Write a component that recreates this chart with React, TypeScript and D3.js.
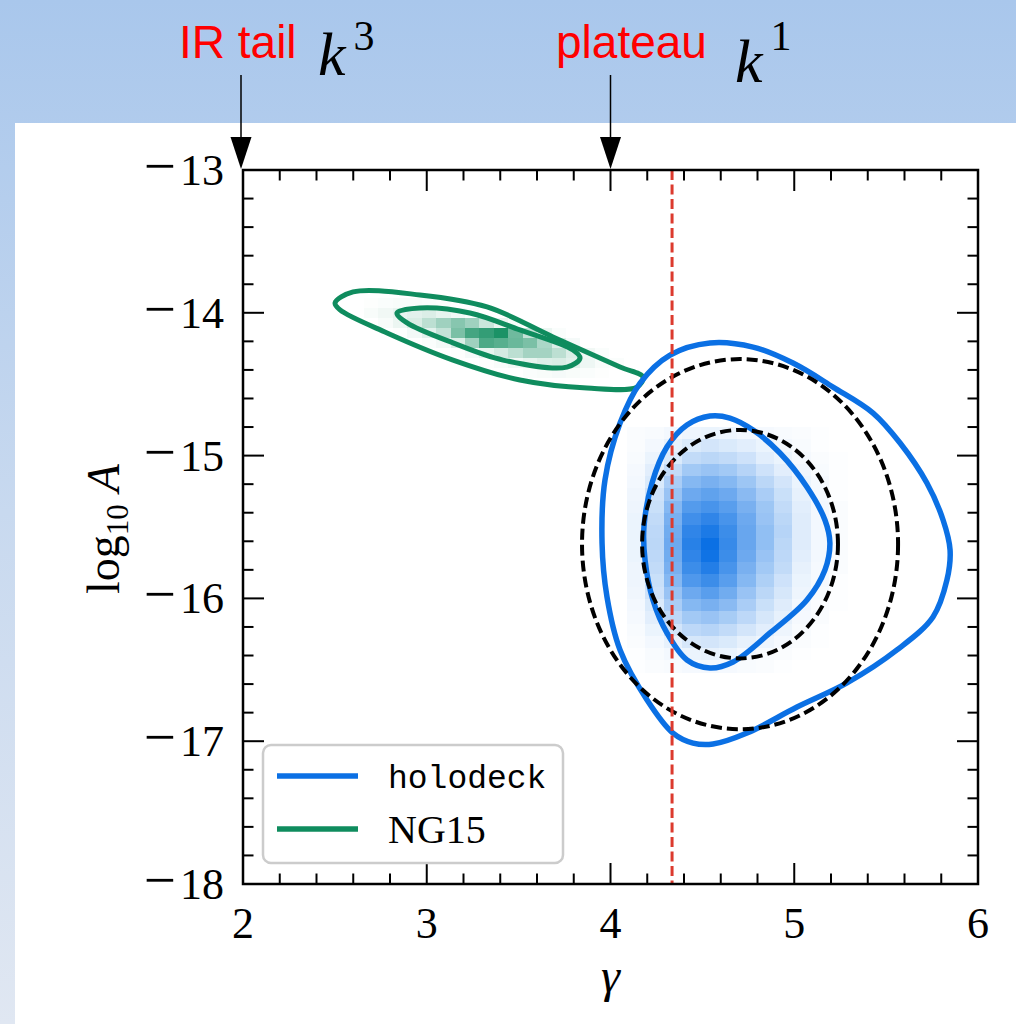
import React, { useEffect, useRef } from 'react';
import * as d3 from 'd3';

// axis ticks
const GAMMA_TICKS = [2, 3, 4, 5, 6];
const LOGA_TICKS = [-13, -14, -15, -16, -17, -18];

// vertical reference (red dashed) and top annotations
const GAMMA_REF = 4.335;
const ANNOTATIONS = [
    { gamma: 2, label: 'IR tail', power: '3' },
    { gamma: 4, label: 'plateau', power: '1' },
];

// contours, [gamma, log10 A]
const HOLODECK_OUTER = [
    [4.541, -14.211], [4.324, -14.296], [4.161, -14.492], [4.052, -14.772], [3.970, -15.171],
    [3.954, -15.612], [3.981, -15.990], [4.052, -16.361], [4.199, -16.711], [4.340, -16.943],
    [4.449, -17.013], [4.558, -17.020], [4.743, -16.943], [5.015, -16.761], [5.287, -16.592],
    [5.559, -16.361], [5.755, -16.130], [5.831, -15.871], [5.848, -15.661], [5.810, -15.451],
    [5.722, -15.192], [5.576, -14.912], [5.429, -14.702], [5.211, -14.520], [4.993, -14.352],
    [4.776, -14.240],
];
const HOLODECK_INNER = [
    [4.541, -14.723], [4.416, -14.786], [4.307, -14.940], [4.226, -15.192], [4.182, -15.500],
    [4.188, -15.731], [4.231, -16.011], [4.307, -16.242], [4.416, -16.431], [4.541, -16.487],
    [4.667, -16.445], [4.868, -16.242], [5.069, -16.011], [5.167, -15.801], [5.194, -15.612],
    [5.167, -15.451], [5.069, -15.220], [4.922, -14.982], [4.776, -14.821], [4.650, -14.737],
];
const NG15_OUTER = [
    [2.501, -13.931], [2.599, -13.854], [2.963, -13.875], [3.328, -13.959], [3.687, -14.169],
    [4.052, -14.380], [4.177, -14.450], [4.144, -14.520], [3.872, -14.527], [3.507, -14.471],
    [3.143, -14.331], [2.784, -14.141], [2.528, -13.980],
];
const NG15_INNER = [
    [2.838, -14.001], [2.963, -13.966], [3.235, -14.001], [3.507, -14.120], [3.796, -14.261],
    [3.834, -14.317], [3.763, -14.380], [3.415, -14.331], [3.143, -14.211], [2.893, -14.071],
];

// gaussian fit contours (black dashed)
const FIT_CENTER = [4.705, -15.62];
const FIT_RX = [0.533, 0.86];
const FIT_RY = [0.80, 1.296];

// 2d histograms: origin (left gamma, top logA), bin sizes, density rows
const HOLODECK_HIST_ORIGIN = [4.09, -14.80];
const HOLODECK_HIST_BIN = [0.1, 0.086];
const HOLODECK_HIST = [
    [.02, .03, .05, .07, .08, .07, .05, .04, .03, .02, .01, 0],
    [.02, .05, .10, .15, .18, .15, .12, .08, .05, .03, .01, 0],
    [.03, .08, .15, .25, .28, .25, .20, .12, .08, .04, .02, .01],
    [.04, .12, .25, .38, .42, .38, .30, .20, .12, .06, .03, .01],
    [.05, .15, .35, .50, .55, .50, .40, .28, .18, .08, .04, .01],
    [.06, .20, .42, .60, .65, .60, .48, .35, .22, .10, .04, .01],
    [.07, .22, .50, .70, .75, .68, .55, .40, .25, .12, .05, .02],
    [.08, .25, .55, .78, .85, .75, .60, .42, .28, .13, .05, .02],
    [.08, .27, .58, .85, .93, .80, .62, .45, .30, .13, .05, .02],
    [.08, .28, .60, .88, 1.0, .82, .62, .45, .28, .13, .05, .02],
    [.08, .27, .58, .85, .98, .80, .60, .42, .27, .12, .05, .02],
    [.07, .25, .55, .80, .90, .75, .55, .38, .25, .10, .04, .02],
    [.07, .22, .50, .72, .80, .68, .50, .33, .20, .08, .04, .01],
    [.06, .20, .42, .60, .68, .58, .42, .28, .17, .07, .03, .01],
    [.05, .15, .35, .50, .55, .48, .35, .22, .13, .05, .02, .01],
    [.04, .12, .27, .38, .42, .36, .27, .17, .10, .04, .02, 0],
    [.03, .08, .18, .27, .30, .25, .18, .12, .07, .03, .01, 0],
    [.02, .05, .10, .17, .18, .15, .10, .07, .04, .02, .01, 0],
    [.01, .03, .05, .08, .10, .08, .05, .03, .02, .01, 0, 0],
    [.01, .02, .03, .04, .05, .04, .03, .02, .01, 0, 0, 0],
];
const NG15_HIST_ORIGIN = [2.6585, -13.896];
const NG15_HIST_BIN = [0.0785, 0.07];
const NG15_HIST = [
    [.01, .02, .03, .03, .02, .01, 0, 0, 0, 0, 0, 0, 0, 0, 0, 0, 0, 0],
    [.03, .06, .10, .12, .15, .10, .05, .02, 0, 0, 0, 0, 0, 0, 0, 0, 0, 0],
    [0, .03, .08, .16, .28, .40, .50, .40, .22, .08, .03, 0, 0, 0, 0, 0, 0, 0],
    [0, 0, .01, .05, .12, .25, .55, .78, .85, .95, .60, .25, .08, .02, 0, 0, 0, 0],
    [0, 0, 0, 0, .02, .05, .15, .40, .75, .70, .62, .55, .35, .15, .04, 0, 0, 0],
    [0, 0, 0, 0, 0, 0, .01, .04, .10, .18, .28, .38, .38, .28, .15, .06, .02, 0],
    [0, 0, 0, 0, 0, 0, 0, 0, .01, .03, .06, .10, .14, .16, .12, .07, .03, .02],
    [0, 0, 0, 0, 0, 0, 0, 0, 0, 0, 0, .02, .03, .04, .03, .02, .01, 0],
];

const BLUE = '#0b70e4';
const GREEN = '#0f8c5e';
const SERIF = '"Liberation Serif", "Times New Roman", serif';

const App = () => {
    const ref = useRef(null);

    const graph = () => {
        const svg = d3.select(ref.current);
        svg.selectAll('*').remove();

        const width = 1016;
        const height = 1024;

        const x = d3.scaleLinear().domain([2, 6]).range([243, 978]);
        const y = d3.scaleLinear().domain([-13, -18]).range([170, 884]);

        // slide background
        const defs = svg.append('defs');
        const grad = defs.append('linearGradient')
            .attr('id', 'bg').attr('x1', 0).attr('y1', 0).attr('x2', 0).attr('y2', 1);
        grad.append('stop').attr('offset', '0%').attr('stop-color', '#a9c7ec');
        grad.append('stop').attr('offset', '50%').attr('stop-color', '#c8d9ef');
        grad.append('stop').attr('offset', '100%').attr('stop-color', '#e0e7f2');
        svg.append('rect').attr('width', width).attr('height', height).attr('fill', 'url(#bg)');
        svg.append('rect').attr('x', 15).attr('y', 123).attr('width', width - 15).attr('height', height - 123).attr('fill', '#fff');

        const g = svg.append('g');

        // histograms
        const drawHist = (rows, origin, bin, color) => {
            const fill = d3.interpolateRgb('#ffffff', color);
            rows.forEach((row, i) => {
                row.forEach((v, j) => {
                    if (v <= 0) return;
                    const g0 = origin[0] + j * bin[0];
                    const a0 = origin[1] - i * bin[1];
                    g.append('rect')
                        .attr('x', x(g0))
                        .attr('y', y(a0))
                        .attr('width', x(g0 + bin[0]) - x(g0))
                        .attr('height', y(a0 - bin[1]) - y(a0))
                        .attr('fill', fill(v))
                        .attr('shape-rendering', 'crispEdges');
                });
            });
        };
        drawHist(HOLODECK_HIST, HOLODECK_HIST_ORIGIN, HOLODECK_HIST_BIN, BLUE);
        drawHist(NG15_HIST, NG15_HIST_ORIGIN, NG15_HIST_BIN, GREEN);

        // contours
        const line = d3.line()
            .x(d => x(d[0]))
            .y(d => y(d[1]))
            .curve(d3.curveCatmullRomClosed.alpha(0.5));
        [[NG15_OUTER, GREEN, 5], [NG15_INNER, GREEN, 5], [HOLODECK_OUTER, BLUE, 5.5], [HOLODECK_INNER, BLUE, 5.5]]
            .forEach(([pts, c, w]) => {
                g.append('path')
                    .attr('d', line(pts))
                    .attr('fill', 'none')
                    .attr('stroke', c)
                    .attr('stroke-width', w)
                    .attr('stroke-linejoin', 'round');
            });

        // fit ellipses
        FIT_RX.forEach((rx, i) => {
            g.append('ellipse')
                .attr('cx', x(FIT_CENTER[0]))
                .attr('cy', y(FIT_CENTER[1]))
                .attr('rx', x(FIT_CENTER[0] + rx) - x(FIT_CENTER[0]))
                .attr('ry', y(FIT_CENTER[1] - FIT_RY[i]) - y(FIT_CENTER[1]))
                .attr('fill', 'none')
                .attr('stroke', '#000')
                .attr('stroke-width', 4)
                .attr('stroke-dasharray', '11,5');
        });

        // reference line
        g.append('line')
            .attr('x1', x(GAMMA_REF)).attr('x2', x(GAMMA_REF))
            .attr('y1', y(-13)).attr('y2', y(-18))
            .attr('stroke', '#dc3a2e')
            .attr('stroke-width', 3)
            .attr('stroke-dasharray', '10,4.5');

        // frame + ticks (inside, all sides)
        const axes = svg.append('g').attr('stroke', '#000').attr('stroke-width', 2);
        const majorLen = 21;
        const minorLen = 10.5;
        x.ticks(20).forEach(t => {
            const len = GAMMA_TICKS.includes(Math.round(t * 10) / 10) ? majorLen : minorLen;
            axes.append('line').attr('x1', x(t)).attr('x2', x(t)).attr('y1', y(-18)).attr('y2', y(-18) - len);
            axes.append('line').attr('x1', x(t)).attr('x2', x(t)).attr('y1', y(-13)).attr('y2', y(-13) + len);
        });
        y.ticks(25).forEach(t => {
            const len = LOGA_TICKS.includes(Math.round(t * 10) / 10) ? majorLen : minorLen;
            axes.append('line').attr('x1', x(2)).attr('x2', x(2) + len).attr('y1', y(t)).attr('y2', y(t));
            axes.append('line').attr('x1', x(6)).attr('x2', x(6) - len).attr('y1', y(t)).attr('y2', y(t));
        });
        axes.append('rect')
            .attr('x', x(2)).attr('y', y(-13))
            .attr('width', x(6) - x(2)).attr('height', y(-18) - y(-13))
            .attr('fill', 'none')
            .attr('stroke-width', 2.5);

        // tick labels
        const labels = svg.append('g').style('font-family', SERIF).style('font-size', '44px').attr('fill', '#000');
        GAMMA_TICKS.forEach(t => {
            labels.append('text').attr('x', x(t)).attr('y', 938).attr('text-anchor', 'middle').text(t);
        });
        LOGA_TICKS.forEach(t => {
            const tx = labels.append('text').attr('x', 224).attr('y', y(t) + 15).attr('text-anchor', 'end');
            tx.append('tspan').style('font-size', '57px').text('\u2212');
            tx.append('tspan').attr('dx', 4).text(Math.abs(t));
        });

        // axis titles
        svg.append('text')
            .attr('x', x(4)).attr('y', 992)
            .attr('text-anchor', 'middle')
            .style('font-family', SERIF).style('font-size', '48px').style('font-style', 'italic')
            .text('\u03b3');
        const yl = svg.append('text')
            .attr('transform', `translate(119, ${y(-15.5) + 2}) rotate(-90)`)
            .attr('text-anchor', 'middle')
            .style('font-family', SERIF).style('font-size', '46px');
        yl.append('tspan').text('log');
        yl.append('tspan').attr('dy', 9).style('font-size', '31px').text('10');
        yl.append('tspan').attr('dy', -9).attr('dx', 12).style('font-style', 'italic').text('A');

        // legend
        const lg = svg.append('g');
        lg.append('rect')
            .attr('x', 263).attr('y', 745).attr('width', 300).attr('height', 118)
            .attr('rx', 8)
            .attr('fill', '#fff').attr('fill-opacity', 0.85)
            .attr('stroke', '#cccccc').attr('stroke-width', 2.5);
        const entries = [
            { name: 'holodeck', color: BLUE, font: '"Liberation Mono", "DejaVu Sans Mono", monospace', size: 33, dy: 12 },
            { name: 'NG15', color: GREEN, font: SERIF, size: 40, dy: 14 },
        ];
        entries.forEach((e, i) => {
            const cy = 776 + i * 53;
            lg.append('line')
                .attr('x1', 277).attr('x2', 358).attr('y1', cy).attr('y2', cy)
                .attr('stroke', e.color).attr('stroke-width', 5.5);
            lg.append('text')
                .attr('x', 388).attr('y', cy + e.dy)
                .style('font-family', e.font).style('font-size', `${e.size}px`)
                .text(e.name);
        });

        // annotations on top
        const ann = svg.append('g');
        ANNOTATIONS.forEach((a, i) => {
            const ax = x(a.gamma) - (i === 0 ? 2 : 0);
            ann.append('line')
                .attr('x1', ax).attr('x2', ax).attr('y1', 75).attr('y2', 140)
                .attr('stroke', '#000').attr('stroke-width', 1.5);
            ann.append('path')
                .attr('d', `M${ax - 10.5},137 L${ax + 10.5},137 L${ax},169 Z`)
                .attr('fill', '#000');
        });
        ann.append('text').attr('x', 179).attr('y', 58)
            .style('font-family', '"Liberation Sans", Arial, sans-serif').style('font-size', '46px')
            .attr('fill', '#ff0000').text(ANNOTATIONS[0].label);
        ann.append('text').attr('x', 556).attr('y', 58)
            .style('font-family', '"Liberation Sans", Arial, sans-serif').style('font-size', '46px')
            .attr('fill', '#ff0000').text(ANNOTATIONS[1].label);
        const kPos = [[318, 75], [735, 82]];
        ANNOTATIONS.forEach((a, i) => {
            const kt = ann.append('text')
                .attr('x', kPos[i][0]).attr('y', kPos[i][1])
                .style('font-family', SERIF);
            kt.append('tspan').style('font-size', '62px').style('font-style', 'italic').text('k');
            kt.append('tspan')
                .attr('dx', 8)
                .attr('dy', i === 0 ? -25 : -32)
                .style('font-size', '42px').text(a.power);
        });
    };

    useEffect(() => graph());

    return (
        <svg ref={ref} width="1016" height="1024" style={{ position: 'absolute', left: 0, top: 0 }}></svg>
    );
};

export default App;
